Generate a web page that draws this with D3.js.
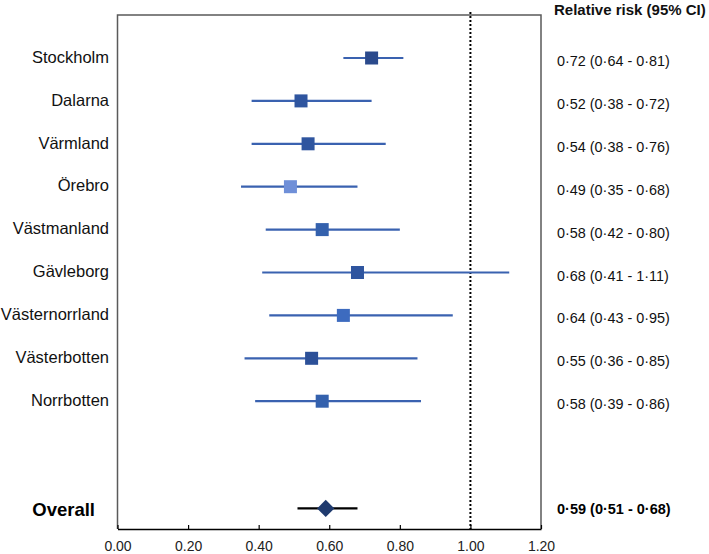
<!DOCTYPE html>
<html>
<head>
<meta charset="utf-8">
<script src="https://cdn.jsdelivr.net/npm/d3@7"></script>
<style>
  body { margin: 0; background: #fff; }
  svg { font-family: "Liberation Sans", Arial, sans-serif; }
</style>
</head>
<body>
<svg id="chart" width="709" height="554"></svg>
<script>
// data
var regions = ["Stockholm", "Dalarna", "Värmland", "Örebro", "Västmanland",
  "Gävleborg", "Västernorrland", "Västerbotten", "Norrbotten"];
var rr = [0.72, 0.52, 0.54, 0.49, 0.58, 0.68, 0.64, 0.55, 0.58];
var ciLow = [0.64, 0.38, 0.38, 0.35, 0.42, 0.41, 0.43, 0.36, 0.39];
var ciHigh = [0.81, 0.72, 0.76, 0.68, 0.80, 1.11, 0.95, 0.85, 0.86];
var overall = { name: "Overall", rr: 0.59, low: 0.51, high: 0.68 };
var xTicks = [0, 0.2, 0.4, 0.6, 0.8, 1.0, 1.2];

var markerColors = ["#2b4a8c", "#2f559f", "#2f559f", "#6f8fd8", "#3461ad",
  "#2f559f", "#3d6bbf", "#2c5098", "#3461ad"];

(function(){
  "use strict"

  var svg = d3.select("#chart"),
  left = 117.5, right = 541, top = 15, bottom = 529,
  x = d3.scaleLinear().domain([0, 1.2]).range([left, right]),
  // row index -> y, overall sits 2.5 rows below the last region
  y = d3.scaleLinear().domain([0, 1]).range([58, 100.9]);

  var rows = regions.map(function(name, i){
    return { name: name, rr: rr[i], low: ciLow[i], high: ciHigh[i], color: markerColors[i], idx: i };
  });
  var fmt = function(v){ return d3.format(".2f")(v).replace(".", "\u00b7"); };
  var ciText = function(d){ return fmt(d.rr) + " (" + fmt(d.low) + " - " + fmt(d.high) + ")"; };

  // frame (top, left, right) in grey
  svg.append("path")
  .attr("d", "M" + left + "," + bottom + " V" + top + " H" + right + " V" + bottom)
  .attr("fill", "none")
  .attr("stroke", "#5a5a5a")
  .attr("stroke-width", 1.5);

  // x axis
  var axis = d3.axisBottom(x).tickValues(xTicks).tickSize(-4).tickSizeOuter(0).tickFormat(d3.format(".2f"));
  var ax = svg.append("g")
  .attr("transform", "translate(0," + bottom + ")")
  .call(axis);
  ax.select(".domain").attr("stroke", "#000").attr("stroke-width", 1.5);
  ax.selectAll(".tick line").attr("stroke", "#000").attr("stroke-width", 1.2);
  ax.selectAll(".tick text")
  .attr("y", 18)
  .attr("dy", "0.32em")
  .attr("font-size", 14)
  .attr("font-family", "Liberation Sans, Arial, sans-serif")
  .attr("fill", "#222");

  // reference line at 1
  svg.append("line")
  .attr("x1", x(1)).attr("x2", x(1))
  .attr("y1", top - 3).attr("y2", bottom)
  .attr("stroke", "#000")
  .attr("stroke-width", 2)
  .attr("stroke-dasharray", "2,2");

  // CI lines
  svg.selectAll(".ci")
  .data(rows)
  .enter()
  .append("line")
  .attr("class", "ci")
  .attr("x1", function(d){ return x(d.low); })
  .attr("x2", function(d){ return x(d.high); })
  .attr("y1", function(d){ return y(d.idx); })
  .attr("y2", function(d){ return y(d.idx); })
  .attr("stroke", "#3a62b0")
  .attr("stroke-width", 2.2);

  // markers
  var sz = 13;
  svg.selectAll(".mk")
  .data(rows)
  .enter()
  .append("rect")
  .attr("class", "mk")
  .attr("x", function(d){ return x(d.rr) - sz / 2; })
  .attr("y", function(d){ return y(d.idx) - sz / 2; })
  .attr("width", sz)
  .attr("height", sz)
  .attr("fill", function(d){ return d.color; });

  // left labels
  svg.selectAll(".lab")
  .data(rows)
  .enter()
  .append("text")
  .attr("class", "lab")
  .attr("x", 109)
  .attr("y", function(d){ return y(d.idx) - 1; })
  .attr("dy", "0.35em")
  .attr("text-anchor", "end")
  .attr("font-size", 16.5)
  .attr("fill", "#111")
  .text(function(d){ return d.name; });

  // right CI texts
  svg.append("text")
  .attr("x", 554)
  .attr("y", 15)
  .attr("font-size", 15)
  .attr("font-weight", "bold")
  .attr("fill", "#111")
  .text("Relative risk (95% CI)");

  svg.selectAll(".rt")
  .data(rows)
  .enter()
  .append("text")
  .attr("class", "rt")
  .attr("x", 557)
  .attr("y", function(d){ return y(d.idx) + 3; })
  .attr("dy", "0.35em")
  .attr("font-size", 14.4)
  .attr("fill", "#111")
  .text(ciText);

  // overall
  var oy = y(10.5);
  svg.append("line")
  .attr("x1", x(overall.low)).attr("x2", x(overall.high))
  .attr("y1", oy).attr("y2", oy)
  .attr("stroke", "#000")
  .attr("stroke-width", 2.2);

  svg.append("path")
  .attr("d", d3.symbol().type(d3.symbolDiamond2).size(190)())
  .attr("transform", "translate(" + x(overall.rr) + "," + oy + ")")
  .attr("fill", "#1f3a6e");

  svg.append("text")
  .attr("x", 95)
  .attr("y", oy + 1)
  .attr("dy", "0.35em")
  .attr("text-anchor", "end")
  .attr("font-size", 18.5)
  .attr("font-weight", "bold")
  .attr("fill", "#000")
  .text(overall.name);

  svg.append("text")
  .attr("x", 557)
  .attr("y", oy)
  .attr("dy", "0.35em")
  .attr("font-size", 14.5)
  .attr("font-weight", "bold")
  .attr("fill", "#000")
  .text(ciText(overall));
})();
</script>
</body>
</html>
